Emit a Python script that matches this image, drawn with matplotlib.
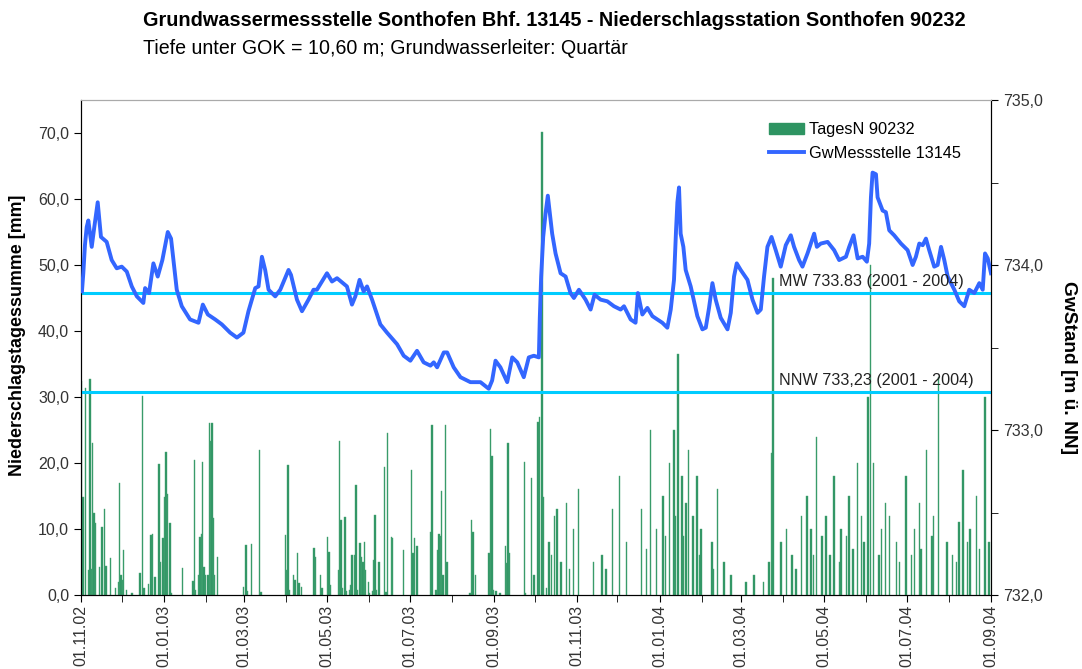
import datetime as dt
import matplotlib
matplotlib.use("Agg")
import matplotlib.pyplot as plt
import matplotlib.dates as mdates
from matplotlib.ticker import FuncFormatter, MultipleLocator
from matplotlib.patches import Patch
from matplotlib.lines import Line2D

plt.rcParams['font.family'] = ['Liberation Sans', 'DejaVu Sans']

# ---------------------------------------------------------
# Daten (Tage ab 01.11.2002)
# ---------------------------------------------------------
start = dt.date(2002, 11, 1)
ende = dt.date(2004, 9, 1)

regen_tag = [0, 1, 3, 5, 6, 7, 8, 9, 10, 13, 15, 17, 18, 21, 25, 27, 28, 29, 30, 31, 33, 37,
             43, 45, 46, 49, 51, 52, 54, 57, 58, 60, 61, 62, 63, 65, 66, 74, 82, 83, 84, 86,
             87, 88, 89, 90, 91, 93, 94, 95, 96, 97, 98, 100, 119, 121, 122, 125, 131, 132,
             150, 151, 152, 153, 156, 157, 159, 160, 162, 171, 172, 176, 177, 181, 182, 183,
             189, 190, 191, 192, 194, 195, 197, 198, 199, 201, 202, 203, 205, 206, 207, 208,
             209, 211, 212, 214, 215, 216, 217, 219, 223, 224, 225, 228, 229, 237, 243, 244,
             245, 247, 257, 258, 261, 262, 263, 264, 265, 266, 268, 269, 286, 287, 288, 290,
             300, 301, 302, 303, 305, 308, 312, 313, 314, 315, 326, 327, 331, 333, 336, 337,
             339, 340, 342,
             344, 346, 348, 350, 353, 357, 359, 362, 366, 377, 383, 386, 391, 396, 401, 412,
             416, 419, 423, 428, 430, 433, 436, 437, 439, 442, 443, 445, 447, 450, 453, 455,
             456, 464, 465, 468, 473, 478, 489, 495, 502, 506, 508, 509, 515, 519, 523, 526,
             530, 534, 537, 539, 541, 545, 548, 551, 554, 558, 559, 563, 565, 568, 571, 574,
             576, 579, 581, 583, 587, 589, 592, 595, 600, 602, 607, 611, 613, 617, 618, 622,
             626, 627, 631, 637, 641, 644, 646, 649, 652, 654, 659, 661, 665, 668]
regen_mm = [32.5, 14.8, 31.3, 3.8, 32.8, 4.0, 23.0, 12.4, 10.9, 4.2, 10.3, 13.1, 4.4, 5.6, 1.0,
            2.0, 17.0, 3.0, 2.2, 6.8, 0.7, 0.3, 3.3, 30.2, 1.0, 1.7, 9.1, 9.3, 2.7, 19.9, 5.0,
            8.6, 14.8, 21.6, 15.3, 10.9, 0.3, 4.1, 2.1, 20.4, 0.8, 3.0, 8.8, 9.3, 20.1, 4.3,
            3.0, 3.0, 26.0, 23.4, 26.0, 11.6, 3.0, 5.8, 1.2, 7.6, 0.6, 7.8, 21.9, 0.4, 9.1,
            3.8, 19.7, 0.8, 3.0, 2.2, 6.4, 1.8, 1.2, 7.1, 5.8, 3.0, 1.0, 8.8, 6.5, 1.5, 3.8,
            23.4, 11.3, 1.0, 11.8, 0.6, 0.8, 1.5, 6.0, 6.0, 16.6, 0.8, 7.9, 5.8, 5.0, 8.1,
            3.8, 2.0, 0.3, 0.6, 5.3, 12.1, 0.8, 5.0, 19.4, 0.4, 24.5, 8.8, 8.6, 6.8, 18.9,
            6.4, 8.6, 7.4, 9.5, 25.7, 0.8, 6.8, 9.2, 9.0, 15.7, 3.0, 25.7, 5.0, 0.3, 11.3,
            9.5, 3.0, 6.4, 25.1, 21.0, 0.8, 0.6, 0.3, 7.5, 4.8, 23.0, 6.4, 20.1, 0.3, 17.8,
            3.0, 26.2, 26.9, 70.2, 14.8, 1.0,
            8.0, 6.0, 12.0, 13.0, 5.0, 14.0, 4.0, 10.0, 16.0, 5.0, 6.0, 4.0, 13.0, 18.0, 8.0,
            13.0, 7.0, 25.0, 10.0, 15.0, 9.0, 20.0, 25.0, 12.0, 36.5, 18.0, 9.0, 14.0, 22.0,
            12.0, 18.0, 6.0, 10.0, 8.0, 4.0, 16.0, 5.0, 3.0, 2.0, 3.0, 2.0, 5.0, 21.5, 48.0,
            8.0, 10.0, 6.0, 4.0, 12.0, 15.0, 10.0, 6.0, 24.0, 9.0, 12.0, 6.0, 18.0, 5.0, 10.0,
            9.0, 15.0, 7.0, 20.0, 12.0, 8.0, 30.0, 50.0, 20.0, 6.0, 10.0, 14.0, 12.0, 8.0,
            5.0, 18.0, 6.0, 10.0, 14.0, 7.0, 22.0, 9.0, 12.0, 33.0, 8.0, 6.0, 5.0, 11.0,
            19.0, 8.0, 10.0, 15.0, 7.0, 30.0, 8.0]

gw_tag = [0.7, 1.7, 2.9, 4.2, 5.4, 7.9, 9.8, 12.3, 14.7, 18.9, 22.6, 26.3, 30.0, 33.7, 37.4,
          41.1, 45.9, 47.2, 50.1, 53.3, 56.5, 59.9, 63.9, 66.3, 70.5, 74.2, 80.3, 86.5, 89.7,
          93.4, 98.8, 103.7, 109.8, 114.8, 119.6, 123.3, 128.3, 130.7, 133.2, 135.6, 138.1,
          143.0, 146.7, 152.8, 154.6, 159.0, 162.7, 167.5, 171.2, 173.7, 181.1, 184.8, 188.5,
          195.8, 199.5, 202.0, 205.1, 208.1, 210.6, 214.3, 220.4, 225.3, 232.7, 237.6, 242.5,
          247.4, 252.3, 257.3, 259.7, 262.2, 267.1, 269.6, 274.4, 279.4, 286.7, 294.1, 300.2,
          302.7, 305.2, 308.8, 313.8, 317.5, 321.2, 326.0, 329.7, 333.4, 337.1, 337.8, 338.8,
          340.3, 342.0, 343.7, 345.2, 346.9, 349.4, 353.1, 356.8, 360.4, 362.9, 366.6, 371.5,
          375.2, 378.1, 382.6, 387.5, 392.4, 397.3, 399.8, 404.7, 408.3, 410.0, 413.3, 417.0,
          420.7, 428.0, 431.7, 434.2, 436.6, 438.1, 439.1, 440.3, 441.5, 443.5, 445.2, 448.9,
          453.8, 457.5, 460.0, 462.4, 464.9, 467.3, 471.0, 476.0, 478.4, 480.8, 482.8, 485.7,
          490.7, 494.4, 498.1, 500.5, 502.9, 505.4, 508.4, 511.5, 515.2, 518.9, 522.6, 525.0,
          528.7, 531.2, 534.9, 539.8, 541.8, 544.7, 549.7, 554.5, 558.2, 563.2, 565.6, 568.8,
          571.8, 575.5, 578.6, 580.3, 581.6, 582.8, 585.3, 586.5, 590.2, 592.6, 595.1, 598.7,
          603.7, 608.6, 612.3, 614.7, 617.2, 619.7, 622.1, 624.5, 628.2, 630.7, 633.2, 635.6,
          638.1, 643.0, 646.6, 650.3, 654.0, 657.7, 661.4, 663.9, 665.6, 667.6, 670.0]
gw_stand = [733.84, 733.95, 734.12, 734.23, 734.27, 734.11, 734.23, 734.38, 734.17, 734.14,
            734.03, 733.98, 733.99, 733.96, 733.87, 733.81, 733.77, 733.86, 733.83, 734.01,
            733.93, 734.03, 734.20, 734.16, 733.85, 733.75, 733.67, 733.65, 733.76, 733.70,
            733.67, 733.64, 733.59, 733.56, 733.59, 733.72, 733.86, 733.87, 734.05, 733.97,
            733.85, 733.81, 733.85, 733.97, 733.94, 733.79, 733.72, 733.79, 733.85, 733.85,
            733.95, 733.90, 733.92, 733.87, 733.76, 733.81, 733.91, 733.84, 733.87, 733.79,
            733.64, 733.59, 733.52, 733.45, 733.42, 733.48, 733.41, 733.39, 733.41, 733.38,
            733.47, 733.47, 733.38, 733.32, 733.29, 733.29, 733.25, 733.30, 733.42, 733.38,
            733.29, 733.44, 733.41, 733.32, 733.44, 733.45, 733.44, 733.68, 733.93, 734.17,
            734.31, 734.42, 734.31, 734.19, 734.07, 733.95, 733.93, 733.83, 733.80, 733.85,
            733.79, 733.73, 733.82, 733.79, 733.78, 733.75, 733.73, 733.75, 733.67, 733.65,
            733.83, 733.70, 733.74, 733.69, 733.65, 733.62, 733.73, 733.91, 734.21, 734.38,
            734.47, 734.19, 734.11, 733.97, 733.87, 733.69, 733.61, 733.62, 733.74, 733.89,
            733.79, 733.68, 733.61, 733.71, 733.93, 734.01, 733.97, 733.91, 733.79, 733.71,
            733.73, 733.93, 734.11, 734.17, 734.09, 733.99, 734.12, 734.18, 734.11, 734.03,
            733.99, 734.07, 734.19, 734.11, 734.13, 734.14, 734.09, 734.03, 734.05, 734.11,
            734.18, 734.04, 734.05, 734.02, 734.13, 734.41, 734.56, 734.55, 734.41, 734.33,
            734.32, 734.21, 734.18, 734.13, 734.09, 734.00, 734.05, 734.13, 734.12, 734.16,
            734.09, 733.99, 734.00, 734.11, 734.03, 733.93, 733.85, 733.78, 733.75, 733.85,
            733.83, 733.89, 733.85, 734.07, 734.04, 733.95]

mw = 733.83
nnw = 733.23

# ---------------------------------------------------------
# Plot
# ---------------------------------------------------------
regen_datum = [start + dt.timedelta(days=d) for d in regen_tag]
gw_datum = [dt.datetime(2002, 11, 1) + dt.timedelta(days=d) for d in gw_tag]

fig = plt.figure(figsize=(10.82, 6.69), dpi=100)
ax = fig.add_axes([81 / 1082, 74 / 669, 910 / 1082, 495 / 669])
ax2 = ax.twinx()

gruen = '#2e9462'
blau = '#3366ff'
cyan = '#00ccff'

ax.bar(regen_datum, regen_mm, width=1.0, align='edge', color=gruen,
       edgecolor='#4aa576', linewidth=0.3)
ax.set_ylim(0, 75)
ax.set_xlim(start, ende)
ax.yaxis.set_major_locator(MultipleLocator(10))
fmt = FuncFormatter(lambda v, p: f"{v:.1f}".replace('.', ','))
ax.yaxis.set_major_formatter(fmt)

ax.xaxis.set_major_locator(mdates.MonthLocator(bymonth=[1, 3, 5, 7, 9, 11]))
ax.xaxis.set_minor_locator(mdates.MonthLocator())
ax.xaxis.set_major_formatter(mdates.DateFormatter('%d.%m.%y'))
for lab in ax.get_xticklabels():
    lab.set_rotation(90)

ax2.axhline(mw, color=cyan, lw=2.2, zorder=1)
ax2.axhline(nnw, color=cyan, lw=2.2, zorder=1)
ax2.plot(gw_datum, gw_stand, color=blau, lw=2.8, zorder=3)
ax2.set_ylim(732, 735)
ax2.yaxis.set_major_locator(MultipleLocator(1))
ax2.yaxis.set_minor_locator(MultipleLocator(0.5))
ax2.yaxis.set_major_formatter(fmt)

ax2.text(dt.datetime(2004, 3, 29), mw + 0.025, "MW 733.83 (2001 - 2004)", fontsize=11.6,
         color='#222222', va='bottom')
ax2.text(dt.datetime(2004, 3, 29), nnw + 0.025, "NNW 733,23 (2001 - 2004)", fontsize=11.6,
         color='#222222', va='bottom')

for a in (ax, ax2):
    a.tick_params(axis='both', which='both', direction='out', labelsize=11.5,
                  labelcolor='#333333', length=5)
    a.spines['top'].set_color('#aaaaaa')
ax.tick_params(axis='x', which='major', pad=2)

ax.set_ylabel("Niederschlagstagessumme [mm]", fontsize=12.9, fontweight='bold')
ax.yaxis.set_label_coords(-0.06, 0.525)
ax2.set_ylabel("GwStand [m ü. NN]", fontsize=13.8, fontweight='bold', rotation=-90)
ax2.yaxis.set_label_coords(1.095, 0.46)

handles = [Patch(facecolor=gruen, edgecolor=gruen),
           Line2D([0], [0], color=blau, lw=2.8)]
ax2.legend(handles, ["TagesN 90232", "GwMessstelle 13145"], loc='upper left',
           bbox_to_anchor=(0.74, 0.985), frameon=False, fontsize=11.8,
           handlelength=2.1, handletextpad=0.35, labelspacing=0.55)

fig.text(143 / 1082, 1 - 20 / 669, "Grundwassermessstelle Sonthofen Bhf. 13145 - "
         "Niederschlagsstation Sonthofen 90232", fontsize=14.3, fontweight='bold',
         va='center', ha='left')
fig.text(143 / 1082, 1 - 48 / 669, "Tiefe unter GOK = 10,60 m; Grundwasserleiter: Quartär",
         fontsize=14.1, va='center', ha='left')

fig.savefig("out.png", dpi=100)
